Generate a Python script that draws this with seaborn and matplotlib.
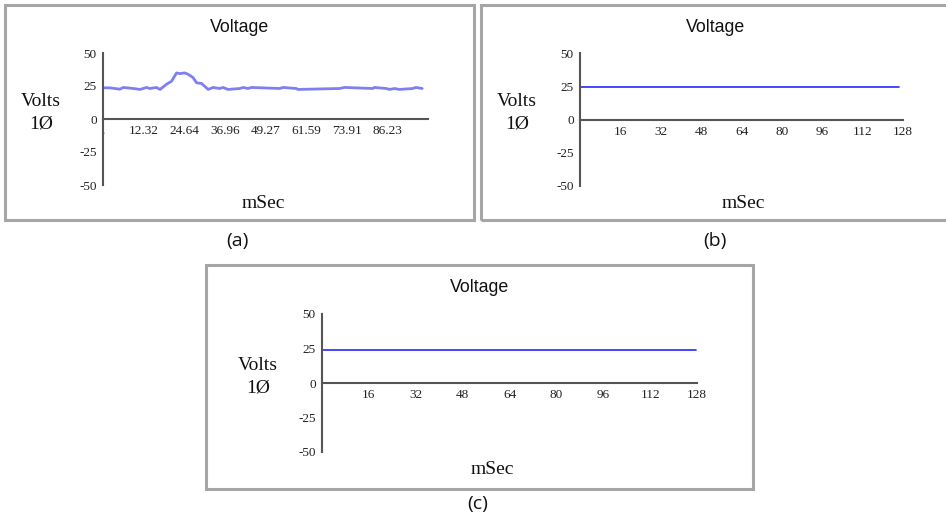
import matplotlib
matplotlib.use("Agg")
import matplotlib.pyplot as plt
import seaborn as sns
import pandas as pd
from matplotlib.patches import Rectangle

sns.set_style("white")
plt.rcParams['font.family'] = ['Liberation Serif', 'DejaVu Serif']

# ---- data ----
time_a = [0, 2.1, 5.1, 6.2, 9.2, 11.2, 13.2, 14.2, 16.2, 17.3, 19.3, 20.8, 22.3, 23.3,
          24.8, 25.8, 27.3, 28.4, 29.9, 31.9, 33.4, 35.4, 36.4, 37.9, 41.5, 42.5, 44.0,
          45.0, 53.6, 54.6, 58.6, 59.1, 71.7, 73.3, 81.8, 82.3, 85.9, 86.9, 88.4, 89.9,
          93.9, 94.9, 96.8]
volts_a = [23.6, 23.6, 22.6, 23.9, 23.1, 22.4, 23.9, 23.1, 23.9, 22.4, 26.4, 28.6, 34.9, 34.4,
           34.9, 33.9, 31.4, 27.4, 26.9, 22.4, 23.9, 23.1, 23.9, 22.4, 23.1, 23.9, 23.1,
           23.9, 23.1, 23.9, 23.1, 22.4, 23.1, 23.9, 23.1, 23.9, 23.1, 22.4, 23.1, 22.4,
           23.1, 23.9, 23.1]
time_b = [0, 126.5]
volts_b = [24.6, 24.6]
time_c = [0, 127.5]
volts_c = [23.6, 23.6]

xticks_a = [0, 12.32, 24.64, 36.96, 49.27, 61.59, 73.91, 86.23, 98.56]
xlabels_a = ['.', '12.32', '24.64', '36.96', '49.27', '61.59', '73.91', '86.23', '']
xticks_bc = [16, 32, 48, 64, 80, 96, 112, 128]
xlabels_bc = ['16', '32', '48', '64', '80', '96', '112', '128']
yticks = [-50, -25, 0, 25, 50]
ylabels = ['-50', '-25', '0', '25', '50']

W, H = 946, 520
fig = plt.figure(figsize=(W / 100, H / 100), dpi=100)
fig.patch.set_facecolor('white')


def fx(px):
    return px / W


def fy(py):
    return 1 - py / H


def box(x0, y0, x1, y1):
    fig.patches.append(Rectangle((fx(x0), fy(y1)), fx(x1) - fx(x0), fy(y0) - fy(y1),
                                 transform=fig.transFigure, fill=False,
                                 edgecolor='#a6a6a6', linewidth=2.2))


def make_axes(left, right, top, bottom, xmax, times, volts, xt, xl, color, lw):
    ax = fig.add_axes([fx(left), fy(bottom), fx(right) - fx(left), fy(top) - fy(bottom)])
    ax.set_facecolor('none')
    df = pd.DataFrame({'t': times, 'v': volts})
    sns.lineplot(data=df, x='t', y='v', ax=ax, color=color, linewidth=lw)
    ax.set_xlim(0, xmax)
    ax.set_ylim(-50, 50)
    for s in ['top', 'right']:
        ax.spines[s].set_visible(False)
    ax.spines['bottom'].set_position(('data', 0))
    ax.spines['left'].set_position(('data', 0))
    for s in ['bottom', 'left']:
        ax.spines[s].set_color('#555555')
        ax.spines[s].set_linewidth(1.5)
    ax.set_xticks(xt)
    ax.set_xticklabels(xl)
    ax.set_yticks(yticks)
    ax.set_yticklabels(ylabels)
    ax.tick_params(axis='both', direction='inout', length=5, width=1.2, color='#555555',
                   labelsize=9.5, labelcolor='#222222', pad=2)
    ax.set_xlabel('')
    ax.set_ylabel('')
    ax.grid(False)
    for lab in ax.get_xticklabels() + ax.get_yticklabels():
        lab.set_fontfamily(['Liberation Serif'])
    return ax


# panel (a)
box(5, 5, 474, 220)
make_axes(103, 428, 53, 185, 98.56, time_a, volts_a, xticks_a, xlabels_a, '#7f7ff2', 2.0)
# panel (b)
box(481, 5, 952, 220)
make_axes(580, 903, 53, 186, 128, time_b, volts_b, xticks_bc, xlabels_bc, '#2626ff', 1.2)
# panel (c)
box(206, 265, 753, 489)
make_axes(322, 697, 314, 452, 128, time_c, volts_c, xticks_bc, xlabels_bc, '#2626ff', 1.2)


def txt(x, y, s, size, family, **kw):
    fig.text(fx(x), fy(y), s, fontsize=size, family=family, ha='center', va='center',
             color='#111111', **kw)


for (tx, ty), (vx, vy), (mx, my) in [((240, 27), (41, 113), (263, 203)),
                                     ((716, 27), (517, 113), (743, 203)),
                                     ((480, 288), (258, 377), (492, 470))]:
    txt(tx, ty, 'Voltage', 12.8, ['Liberation Sans', 'DejaVu Sans'])
    txt(vx, vy, 'Volts\n1Ø', 14, ['Liberation Serif', 'DejaVu Serif'], linespacing=1.4)
    txt(mx, my, 'mSec', 14, ['Liberation Serif', 'DejaVu Serif'])

txt(237, 241, '(a)', 14, ['Open Sans', 'DejaVu Sans'])
txt(715, 241, '(b)', 14, ['Open Sans', 'DejaVu Sans'])
txt(478, 504, '(c)', 14, ['Open Sans', 'DejaVu Sans'])

fig.savefig('out.png', dpi=100)
